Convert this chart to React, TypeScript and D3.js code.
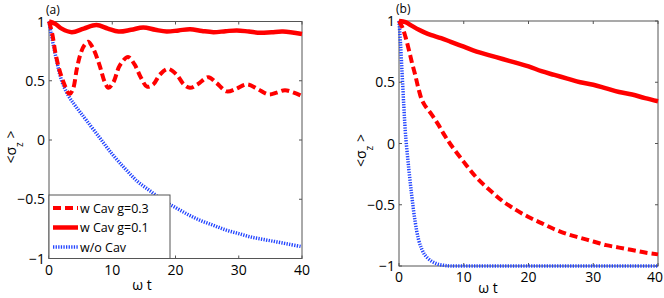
import React from "react";
import * as d3 from "d3";

// axis ticks shared by both panels
const xTicks = [0, 10, 20, 30, 40];
const yTicks = [-1, -0.5, 0, 0.5, 1];
const legendLabels = ["w Cav g=0.3", "w Cav g=0.1", "w/o Cav"];

// panel (a): g=0.3 with cavity
const tA03 = [0, 0.5, 1, 1.5, 2, 2.5, 3, 3.3, 3.8, 4.4, 5, 5.6, 6.2, 7, 8, 8.8, 9.4, 10.2, 11.2, 12.5, 13.5, 14.5, 15.5, 16.5, 17.5, 18.8, 20.2, 21.3, 22.3, 23.5, 25.2, 26.5, 28.1, 29.5, 31.3, 33, 34.7, 36, 37.3, 38.7, 40];
const vA03 = [1, 0.9, 0.74, 0.62, 0.53, 0.46, 0.4, 0.39, 0.43, 0.6, 0.73, 0.8, 0.83, 0.77, 0.63, 0.49, 0.44, 0.49, 0.63, 0.7, 0.64, 0.53, 0.45, 0.47, 0.55, 0.6, 0.55, 0.47, 0.44, 0.47, 0.53, 0.48, 0.41, 0.43, 0.47, 0.43, 0.385, 0.4, 0.42, 0.4, 0.37];
// panel (a): g=0.1 with cavity
const tA01 = [0, 1, 2, 3.6, 5.5, 7.5, 9.3, 11, 13, 14.9, 16.8, 18.6, 20.5, 22.3, 24.2, 26, 27.9, 29.7, 31.6, 33.4, 35.2, 37, 40];
const vA01 = [1, 0.98, 0.94, 0.91, 0.94, 0.97, 0.94, 0.915, 0.93, 0.95, 0.93, 0.915, 0.925, 0.935, 0.92, 0.91, 0.918, 0.925, 0.915, 0.905, 0.91, 0.915, 0.895];
// panel (a): without cavity
const tA0 = [0, 0.5, 1, 2, 3, 4, 5, 6, 8, 10, 12, 14, 16, 18, 20, 22, 24, 26, 28, 30, 32, 34, 36, 38, 40];
const vA0 = [1, 0.85, 0.72, 0.5, 0.38, 0.3, 0.23, 0.16, 0.02, -0.12, -0.24, -0.35, -0.43, -0.51, -0.57, -0.63, -0.68, -0.72, -0.76, -0.79, -0.82, -0.84, -0.86, -0.88, -0.9];

// panel (b)
const tB03 = [0, 0.5, 1, 1.5, 2, 2.5, 3, 3.5, 4, 5, 6, 7, 8, 10, 12, 14, 16, 18, 20, 22, 24, 26, 28, 30, 32, 34, 36, 38, 40];
const vB03 = [1, 0.95, 0.87, 0.77, 0.66, 0.56, 0.45, 0.36, 0.31, 0.24, 0.16, 0.07, -0.01, -0.15, -0.28, -0.38, -0.47, -0.54, -0.6, -0.65, -0.7, -0.74, -0.77, -0.8, -0.83, -0.85, -0.87, -0.89, -0.905];
const tB01 = [0, 1, 2, 3, 4, 5, 6.5, 8, 10, 12, 14, 16, 18, 20, 22, 24, 26, 28, 30, 32, 34, 36, 38, 40];
const vB01 = [1, 0.99, 0.96, 0.93, 0.905, 0.885, 0.86, 0.83, 0.79, 0.75, 0.72, 0.69, 0.66, 0.63, 0.59, 0.56, 0.53, 0.5, 0.48, 0.45, 0.42, 0.4, 0.37, 0.345];
const tB0 = [0, 0.25, 0.5, 0.75, 1, 1.5, 2, 2.5, 3, 3.5, 4, 5, 6, 7, 8, 12, 16, 20, 24, 28, 32, 36, 40];
const vB0 = [1, 0.8, 0.55, 0.3, 0.08, -0.2, -0.44, -0.64, -0.78, -0.86, -0.91, -0.96, -0.985, -0.995, -1, -1, -1, -1, -1, -1, -1, -1, -1];

const FONT = "'Open Sans', 'DejaVu Sans', sans-serif";
const AXIS = "#555";
const W = 664;

const styles = [
  { stroke: "#ff0000", width: 4, dash: "8,4" },
  { stroke: "#ff0000", width: 4.5, dash: undefined },
  { stroke: "#2244ff", width: 3.5, dash: "1.3,1.3" },
];

const zip = (t: number[], v: number[]) => t.map((d, i) => [d, v[i]] as [number, number]);

function Panel({ box, label, series, legend, xLabelPos }: any) {
  const x = d3.scaleLinear().domain([0, 40]).range([box.left, box.right]);
  const y = d3.scaleLinear().domain([-1, 1]).range([box.bottom, box.top]);
  const line = d3.line<[number, number]>()
    .x(d => x(d[0]))
    .y(d => y(d[1]))
    .curve(d3.curveCatmullRom.alpha(0.5));
  const fmt = d3.format("~g");
  const midY = (box.top + box.bottom) / 2;

  return (
    <g>
      <rect x={box.left} y={box.top} width={box.right - box.left} height={box.bottom - box.top}
        fill="none" stroke={AXIS} strokeWidth={1} />
      {xTicks.map(t => {
        // keep the last label inside the window
        const tooFar = x(t) + 9 > W;
        return (
          <g key={"x" + t}>
            <line x1={x(t)} x2={x(t)} y1={box.bottom} y2={box.bottom - 3} stroke={AXIS} />
            <line x1={x(t)} x2={x(t)} y1={box.top} y2={box.top + 3} stroke={AXIS} />
            <text x={tooFar ? W - 1 : x(t)} y={box.bottom + 16} textAnchor={tooFar ? "end" : "middle"}
              fontSize={14} fontFamily={FONT}>{fmt(t)}</text>
          </g>
        );
      })}
      {yTicks.map(v => (
        <g key={"y" + v}>
          <line x1={box.left} x2={box.left + 3} y1={y(v)} y2={y(v)} stroke={AXIS} />
          <line x1={box.right} x2={box.right - 3} y1={y(v)} y2={y(v)} stroke={AXIS} />
          <text x={box.left - 4} y={y(v) + 5} textAnchor="end" fontSize={14} fontFamily={FONT}>{fmt(v)}</text>
        </g>
      ))}
      {[2, 0, 1].map(i => (
        <path key={"s" + i} d={line(series[i]) || ""} fill="none" stroke={styles[i].stroke}
          strokeWidth={styles[i].width} strokeDasharray={styles[i].dash} strokeLinecap="butt" />
      ))}
      <text x={box.left - 3} y={box.top - 8} fontSize={12} fontFamily={FONT}>{label}</text>
      <text x={xLabelPos[0]} y={xLabelPos[1]} textAnchor="middle" fontSize={14} fontFamily={FONT}>ω t</text>
      <text transform={`translate(${box.left - 33},${midY + 7}) rotate(-90)`} textAnchor="middle"
        fontSize={14} fontFamily={FONT}>
        {"<σ"}<tspan baselineShift="sub" fontSize={10}>z</tspan>{" >"}
      </text>
      {legend && (
        <g>
          <rect x={box.left} y={195} width={121} height={box.bottom - 195} fill="#fff" stroke={AXIS} />
          {legendLabels.map((l, i) => {
            const ly = 208 + i * 19.5;
            return (
              <g key={l}>
                <line x1={box.left + 4} x2={box.left + 29} y1={ly} y2={ly} stroke={styles[i].stroke}
                  strokeWidth={styles[i].width} strokeDasharray={styles[i].dash} />
                <text x={box.left + 31} y={ly + 4.5} fontSize={12.5} fontFamily={FONT}>{l}</text>
              </g>
            );
          })}
        </g>
      )}
    </g>
  );
}

export default function App() {
  const seriesA = [zip(tA03, vA03), zip(tA01, vA01), zip(tA0, vA0)];
  const seriesB = [zip(tB03, vB03), zip(tB01, vB01), zip(tB0, vB0)];
  return (
    <svg width={W} height={298} style={{ position: "absolute", left: 0, top: 0, background: "#fff" }}>
      <Panel box={{ left: 49, right: 302, top: 21.5, bottom: 258.5 }} label="(a)" series={seriesA}
        legend xLabelPos={[142, 290]} />
      <Panel box={{ left: 399, right: 658, top: 21, bottom: 266 }} label="(b)" series={seriesB}
        xLabelPos={[488, 293]} />
    </svg>
  );
}
